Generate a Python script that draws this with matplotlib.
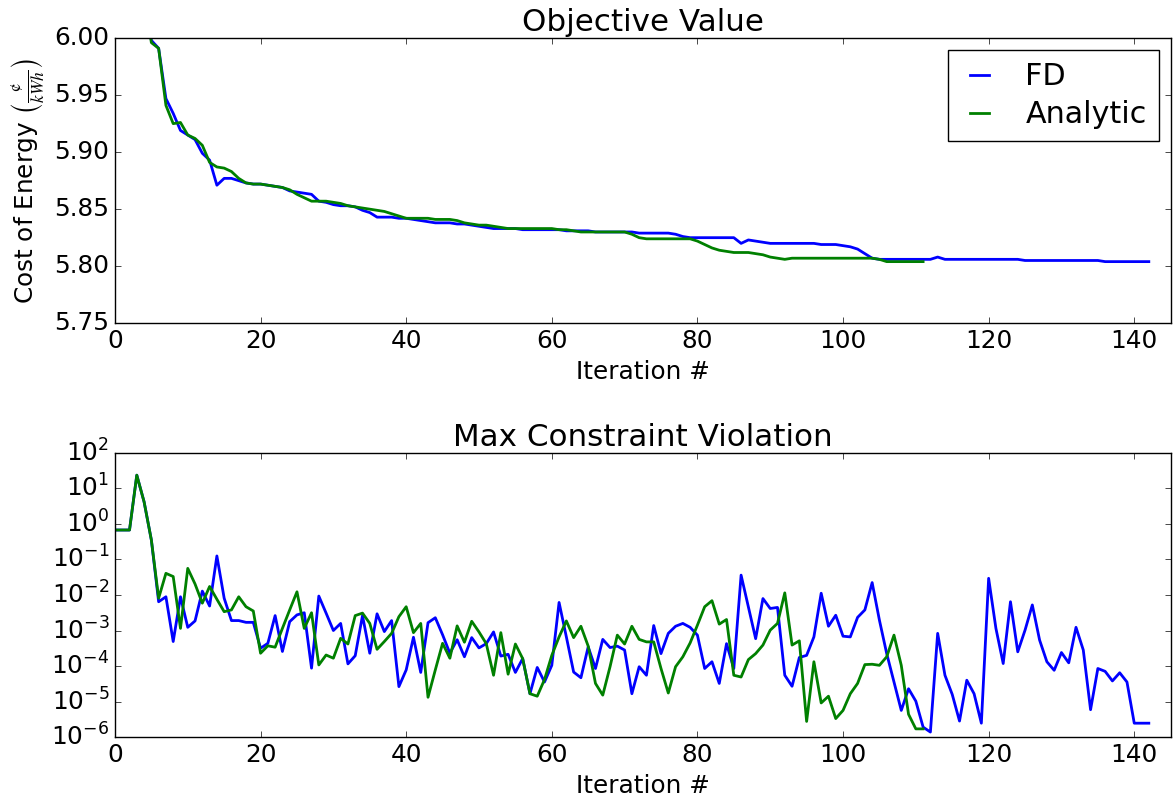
import matplotlib
matplotlib.use('Agg')
import matplotlib.pyplot as plt
import matplotlib.ticker as mticker
import numpy as np

plt.style.use('classic')
plt.rcParams['font.size'] = 17.8
plt.rcParams['figure.facecolor'] = 'white'
plt.rcParams['savefig.facecolor'] = 'white'

# objective value (cost of energy) per iteration
fd_cost = [6.25, 6.20, 6.15, 6.10, 6.04, 5.998, 5.991, 5.947, 5.934, 5.919,
           5.915, 5.911, 5.899, 5.893, 5.871, 5.877, 5.877, 5.875, 5.873, 5.872,
           5.872, 5.871, 5.870, 5.869, 5.866, 5.865, 5.864, 5.863, 5.857, 5.856,
           5.854, 5.853, 5.853, 5.852, 5.849, 5.847, 5.843, 5.843, 5.843, 5.842,
           5.842, 5.841, 5.840, 5.839, 5.838, 5.838, 5.838, 5.837, 5.837, 5.836,
           5.835, 5.834, 5.833, 5.833, 5.833, 5.833, 5.832, 5.832, 5.832, 5.832,
           5.832, 5.832, 5.831, 5.831, 5.831, 5.831, 5.830, 5.830, 5.830, 5.830,
           5.830, 5.830, 5.829, 5.829, 5.829, 5.829, 5.829, 5.828, 5.826, 5.825,
           5.825, 5.825, 5.825, 5.825, 5.825, 5.825, 5.820, 5.823, 5.822, 5.821,
           5.820, 5.820, 5.820, 5.820, 5.820, 5.820, 5.820, 5.819, 5.819, 5.819,
           5.818, 5.817, 5.815, 5.811, 5.807, 5.806, 5.806, 5.806, 5.806, 5.806,
           5.806, 5.806, 5.806, 5.808, 5.806, 5.806, 5.806, 5.806, 5.806, 5.806,
           5.806, 5.806, 5.806, 5.806, 5.806, 5.805, 5.805, 5.805, 5.805, 5.805,
           5.805, 5.805, 5.805, 5.805, 5.805, 5.805, 5.804, 5.804, 5.804, 5.804,
           5.804, 5.804, 5.804]
an_cost = [6.25, 6.20, 6.15, 6.10, 6.04, 5.996, 5.991, 5.941, 5.925, 5.926,
           5.915, 5.912, 5.906, 5.891, 5.887, 5.886, 5.883, 5.877, 5.873, 5.872,
           5.872, 5.871, 5.870, 5.869, 5.867, 5.863, 5.860, 5.857, 5.857, 5.857,
           5.856, 5.855, 5.853, 5.852, 5.851, 5.850, 5.849, 5.848, 5.846, 5.844,
           5.842, 5.842, 5.842, 5.842, 5.841, 5.841, 5.841, 5.840, 5.838, 5.837,
           5.836, 5.836, 5.835, 5.834, 5.833, 5.833, 5.833, 5.833, 5.833, 5.833,
           5.833, 5.832, 5.832, 5.831, 5.830, 5.830, 5.830, 5.830, 5.830, 5.830,
           5.830, 5.828, 5.825, 5.824, 5.824, 5.824, 5.824, 5.824, 5.824, 5.824,
           5.822, 5.819, 5.816, 5.814, 5.813, 5.812, 5.812, 5.812, 5.811, 5.810,
           5.808, 5.807, 5.806, 5.807, 5.807, 5.807, 5.807, 5.807, 5.807, 5.807,
           5.807, 5.807, 5.807, 5.807, 5.807, 5.806, 5.804, 5.804, 5.804, 5.804,
           5.804, 5.804]

# max constraint violation, as log10 exponents
fd_viol_exp = [-0.17, -0.17, -0.17, 1.375, 0.625, -0.45, -2.19, -2.05, -3.31, -2.05,
               -2.91, -2.73, -1.89, -2.31, -0.90, -2.09, -2.72, -2.72, -2.77, -2.77,
               -3.50, -3.36, -2.58, -3.59, -2.75, -2.56, -2.50, -4.06, -2.03, -2.51,
               -3.00, -2.80, -3.94, -3.71, -2.58, -3.64, -2.53, -3.03, -2.72, -4.58,
               -4.11, -3.19, -4.18, -2.78, -2.64, -3.12, -3.64, -3.26, -3.74, -3.20,
               -3.49, -3.37, -3.04, -3.72, -3.67, -4.18, -3.79, -4.78, -4.04, -4.45,
               -3.98, -2.21, -3.18, -4.17, -4.33, -3.46, -4.07, -3.25, -3.48, -3.44,
               -3.55, -4.78, -4.02, -4.26, -2.86, -3.65, -3.08, -2.88, -2.80, -2.91,
               -3.13, -4.07, -3.88, -4.49, -3.37, -4.07, -1.44, -2.33, -3.23, -2.10,
               -2.38, -2.35, -4.26, -4.57, -3.76, -3.70, -3.18, -1.95, -2.88, -2.57,
               -3.16, -3.18, -2.63, -2.42, -1.65, -2.71, -3.65, -4.45, -5.25, -4.64,
               -4.99, -5.72, -5.86, -3.08, -4.26, -4.80, -5.55, -4.40, -4.78, -5.61,
               -1.53, -2.94, -3.93, -2.19, -3.60, -2.99, -2.28, -3.27, -3.88, -4.12,
               -3.62, -3.91, -2.91, -3.55, -5.23, -4.07, -4.15, -4.42, -4.19, -4.45,
               -5.61, -5.61, -5.61]
an_viol_exp = [-0.17, -0.17, -0.17, 1.375, 0.625, -0.45, -2.09, -1.39, -1.48, -2.94,
               -1.25, -1.69, -2.23, -1.76, -2.12, -2.47, -2.42, -2.05, -2.33, -2.45,
               -3.64, -3.43, -3.47, -2.94, -2.42, -1.91, -2.94, -2.50, -3.97, -3.69,
               -3.78, -3.22, -3.38, -2.58, -2.51, -2.80, -3.53, -3.31, -3.08, -2.61,
               -2.33, -3.06, -2.80, -4.88, -4.11, -3.36, -3.78, -2.87, -3.33, -2.74,
               -3.04, -3.37, -4.26, -3.06, -4.23, -3.38, -3.79, -4.78, -4.85, -4.38,
               -3.70, -3.18, -2.73, -3.20, -2.88, -3.44, -4.49, -4.82, -4.02, -3.13,
               -3.38, -2.88, -3.25, -3.32, -3.32, -4.07, -4.76, -4.02, -3.74, -3.35,
               -2.85, -2.33, -2.16, -2.82, -2.69, -4.26, -4.31, -3.82, -3.65, -3.41,
               -2.99, -2.80, -1.94, -3.41, -3.29, -5.56, -3.88, -5.04, -4.85, -5.48,
               -5.25, -4.78, -4.49, -3.96, -3.95, -3.98, -3.74, -3.13, -3.98, -5.36,
               -5.77, -5.77]

fd_iter = np.arange(len(fd_cost))
an_iter = np.arange(len(an_cost))
fd_viol = 10.0 ** np.array(fd_viol_exp)
an_viol = 10.0 ** np.array(an_viol_exp)

fig = plt.figure(figsize=(11.73, 8.02), dpi=100)
ax1 = fig.add_axes([0.098, 0.597, 0.9, 0.3555])
ax2 = fig.add_axes([0.098, 0.081, 0.9, 0.3542])

ax1.plot(fd_iter, fd_cost, 'b-', lw=2, label='FD')
ax1.plot(an_iter, an_cost, 'g-', lw=2, label='Analytic')
ax1.set_xlim(0, 145)
ax1.set_ylim(5.75, 6.00)
ax1.yaxis.set_major_formatter(mticker.FormatStrFormatter('%.2f'))
ax1.set_title('Objective Value', fontsize=22.3)
ax1.set_xlabel('Iteration #')
ax1.set_ylabel(r'Cost of Energy $\left(\frac{¢}{kWh}\right)$', math_fontfamily='stix')
ax1.legend(loc='upper right', fontsize=21.7, handlelength=1.25,
           handletextpad=0.9, labelspacing=0.3, borderaxespad=0.4)

ax2.semilogy(fd_iter, fd_viol, 'b-', lw=2)
ax2.semilogy(an_iter, an_viol, 'g-', lw=2)
ax2.set_xlim(0, 145)
ax2.set_ylim(1e-6, 1e2)
ax2.yaxis.set_major_locator(mticker.LogLocator(base=10, numticks=20))
ax2.yaxis.set_minor_locator(mticker.NullLocator())
ax2.set_title('Max Constraint Violation', fontsize=22.3)
ax2.set_xlabel('Iteration #')

fig.savefig('out.png', dpi=100)
